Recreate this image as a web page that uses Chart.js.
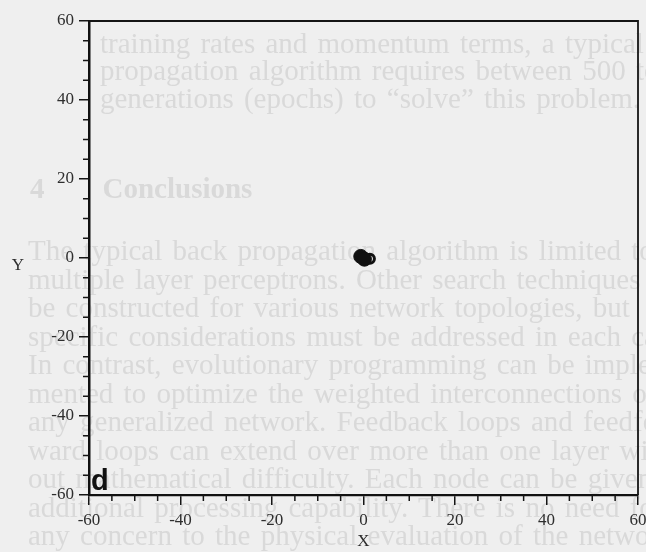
<!DOCTYPE html>
<html><head><meta charset="utf-8">
<script src="https://cdn.jsdelivr.net/npm/chart.js@4.4.1/dist/chart.umd.min.js"></script>
<style>
html,body{margin:0;padding:0;background:#efefef;}
#wrap{position:relative;width:646px;height:552px;overflow:hidden;background:#efefef;}
#bg{position:absolute;left:0;top:0;width:646px;height:552px;overflow:hidden;font-family:"Liberation Serif","Times New Roman",serif;font-size:29px;color:#d9d9d9;filter:blur(0.6px);}
#bg div{position:absolute;white-space:nowrap;line-height:28px;word-spacing:3px;}
canvas{position:absolute;left:0;top:0;}
</style>
</head><body>
<div id="wrap">
<div id="bg"></div>
<canvas id="c" width="646" height="552"></canvas>
</div>
<script>
// ---- data ----
const xTicks = [-60, -40, -20, 0, 20, 40, 60];
const xTickLabels = ['-60', '-40', '-20', '0', '20', '40', '60'];
const yTicks = [-60, -40, -20, 0, 20, 40, 60];
const yTickLabels = ['-60', '-40', '-20', '0', '20', '40', '60'];
const minorStep = 5;
const filledPoints = [{x: -0.6, y: 0.4}, {x: 0.2, y: -0.3}];
const openPoints = [{x: 1.4, y: -0.2}];
const panelLetter = 'd';
const xTitle = 'X';
const yTitle = 'Y';

// show-through text of the scanned page
const bgLines = [
  {t: 'training rates and momentum terms, a typical back-', x: 100, y: 43},
  {t: 'propagation algorithm requires between 500 to 1000', x: 100, y: 70},
  {t: 'generations (epochs) to \u201csolve\u201d this problem.', x: 100, y: 98},
  {t: '4\u2003\u2003Conclusions', x: 30, y: 188, b: true},
  {t: 'The typical back propagation algorithm is limited to', x: 28, y: 250},
  {t: 'multiple layer perceptrons. Other search techniques can', x: 28, y: 279},
  {t: 'be constructed for various network topologies, but', x: 28, y: 307},
  {t: 'specific considerations must be addressed in each case.', x: 28, y: 336},
  {t: 'In contrast, evolutionary programming can be imple-', x: 28, y: 364},
  {t: 'mented to optimize the weighted interconnections of', x: 28, y: 393},
  {t: 'any generalized network. Feedback loops and feedfor-', x: 28, y: 421},
  {t: 'ward loops can extend over more than one layer with-', x: 28, y: 450},
  {t: 'out mathematical difficulty. Each node can be given', x: 28, y: 478},
  {t: 'additional processing capability. There is no need for', x: 28, y: 507},
  {t: 'any concern to the physical evaluation of the network', x: 28, y: 535}
];
const bg = document.getElementById('bg');
bgLines.forEach(l => {
  const d = document.createElement('div');
  d.textContent = l.t;
  d.style.left = l.x + 'px';
  d.style.top = (l.y - 14) + 'px';
  if (l.b) d.style.fontWeight = 'bold';
  bg.appendChild(d);
});

const decor = {
  id: 'decor',
  afterDraw(chart) {
    const ctx = chart.ctx, a = chart.chartArea;
    const xs = chart.scales.x, ys = chart.scales.y;
    ctx.save();
    ctx.strokeStyle = '#151515';
    ctx.lineWidth = 1.5;
    // minor ticks
    for (let v = xs.min; v <= xs.max; v += minorStep) {
      if (xTicks.includes(v)) continue;
      const px = xs.getPixelForValue(v);
      ctx.beginPath(); ctx.moveTo(px, a.bottom); ctx.lineTo(px, a.bottom + 6); ctx.stroke();
    }
    for (let v = ys.min; v <= ys.max; v += minorStep) {
      if (yTicks.includes(v)) continue;
      const py = ys.getPixelForValue(v);
      ctx.beginPath(); ctx.moveTo(a.left, py); ctx.lineTo(a.left - 6, py); ctx.stroke();
    }
    // top & right frame
    ctx.lineWidth = 1.8;
    ctx.beginPath();
    ctx.moveTo(a.left, a.top); ctx.lineTo(a.right, a.top); ctx.lineTo(a.right, a.bottom);
    ctx.stroke();
    // Y title (upright)
    ctx.fillStyle = '#2e2e2e';
    ctx.font = '17px "Liberation Serif", serif';
    ctx.textAlign = 'center';
    ctx.textBaseline = 'middle';
    ctx.fillText(yTitle, 18, (a.top + a.bottom) / 2 + 8);
    // panel letter
    ctx.fillStyle = '#111';
    ctx.font = 'bold 29px "Liberation Sans", Arial, sans-serif';
    ctx.textAlign = 'left';
    ctx.textBaseline = 'alphabetic';
    ctx.fillText(panelLetter, a.left + 2, a.bottom - 5);
    ctx.restore();
  }
};

const tickFont = {family: '"Liberation Serif", serif', size: 17};
new Chart(document.getElementById('c'), {
  type: 'scatter',
  data: {
    datasets: [
      {data: filledPoints, pointRadius: 7, backgroundColor: '#111', borderColor: '#111', borderWidth: 1},
      {data: openPoints, pointRadius: 4.5, backgroundColor: '#f2f2f2', borderColor: '#111', borderWidth: 3}
    ]
  },
  options: {
    animation: false,
    responsive: false,
    layout: {padding: {left: 0, right: 8, top: 21, bottom: 0}},
    plugins: {legend: {display: false}, tooltip: {enabled: false}},
    scales: {
      x: {
        type: 'linear', min: -60, max: 60,
        afterBuildTicks: s => { s.ticks = xTicks.map(v => ({value: v})); },
        ticks: {callback: (v, i) => xTickLabels[i], font: tickFont, color: '#2e2e2e', padding: 5, maxRotation: 0, autoSkip: false},
        grid: {drawOnChartArea: false, drawTicks: true, tickLength: 10, color: '#151515', lineWidth: 1.5},
        border: {display: true, color: '#111', width: 2.2},
        title: {display: true, text: xTitle, font: tickFont, color: '#2e2e2e', padding: {top: 0, bottom: 0}},
        afterFit: s => { s.height = 57; s.paddingLeft = 0; s.paddingRight = 0; }
      },
      y: {
        type: 'linear', min: -60, max: 60,
        afterBuildTicks: s => { s.ticks = yTicks.map(v => ({value: v})); },
        ticks: {callback: (v, i) => yTickLabels[i], font: tickFont, color: '#2e2e2e', padding: 5, autoSkip: false},
        grid: {drawOnChartArea: false, drawTicks: true, tickLength: 10, color: '#151515', lineWidth: 1.5},
        border: {display: true, color: '#111', width: 2.5},
        title: {display: false},
        afterFit: s => { s.width = 89; s.paddingTop = 0; s.paddingBottom = 0; }
      }
    }
  },
  plugins: [decor]
});
</script>
</body></html>
